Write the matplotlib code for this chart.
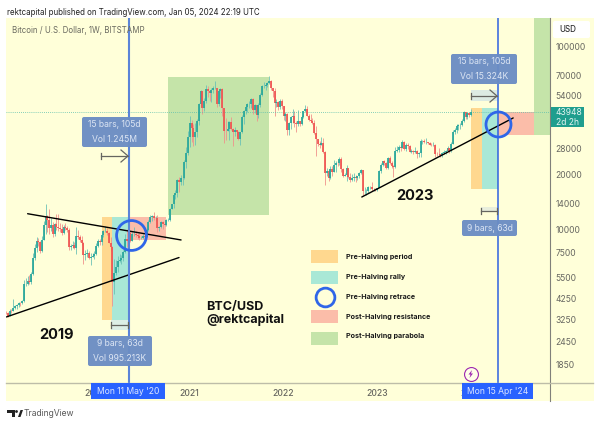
import matplotlib
matplotlib.use("Agg")
import matplotlib.pyplot as plt
import matplotlib.dates as mdates
from matplotlib.patches import Rectangle, FancyBboxPatch, Polygon, Circle
import pandas as pd

plt.rcParams['font.family'] = ['Inter', 'DejaVu Sans']

# Weekly candles, week starting 2019-01-07, last week 2024-01-01
closes = [
 3530,3535,3530,3410,3620,3600,3750,3825,3870,3990,3970,4090,5060,5060,5270,5170,5770,6990,8000,8730,8560,7640,8860,10700,11900,11300,
 10200,10700,9530,10800,10330,10300,10140,9630,10400,10300,10000,8050,8140,8290,7950,9240,9200,8800,8500,7300,7400,7520,7060,7150,7250,7350,
 8170,8700,8600,9330,9900,9900,9660,8520,8030,5200,5830,6240,6770,6860,7040,7540,8880,8700,9670,8720,9450,9470,9330,9300,9000,9060,
 9230,9150,9950,11050,11750,11850,11650,11700,10280,10320,11080,10740,10670,11300,11360,13030,13800,15480,15970,18660,18180,19150,19170,23480,26480,32100,
 38200,36000,32300,34300,39300,48600,57400,46200,50900,59000,57600,55800,57900,59700,60000,49000,57800,58800,46400,34800,34600,35800,39000,35600,34500,35200,
 34200,31500,34300,41500,44500,47000,48900,48900,51800,45200,48300,42700,48200,54900,60800,61300,61800,63300,65500,59700,57300,49300,50100,46700,50800,47700,
 41800,43100,35000,38200,41400,42100,38400,37700,39400,37800,41300,44500,45800,42100,39700,39400,38500,34000,31300,29400,29000,29900,26600,20600,21000,19300,
 21600,20800,22600,23300,23200,24300,21500,19600,20000,21800,19400,18800,19300,19400,19200,19600,20600,21300,16300,16300,16400,17100,17100,16700,16800,16500,
 16900,20900,22700,23700,23300,21800,24600,23200,22400,22100,26900,27500,28450,28000,30300,27800,29200,28900,26800,27100,26800,27100,25900,26300,30500,30500,
 30300,30300,29800,29300,29000,29300,26100,26000,25900,25800,26500,26600,27000,27900,27100,29500,34500,35000,37000,37400,37500,39500,44000,41400,43700,42300,43948]
highs = [
 4050,3680,3620,3580,3680,3680,4200,3900,3920,4050,4050,4140,5350,5470,5600,5650,5900,7450,8350,9100,9050,8750,9300,11200,13800,12000,
 13100,11600,11100,10900,12300,12300,10950,10800,10650,10900,10500,10300,8350,8700,8650,10350,9950,9400,9300,8550,7800,7900,7700,7500,7450,7680,
 8450,8950,8950,9480,9950,10500,10300,9700,9200,8180,6900,6880,7200,7430,7260,7780,9480,10070,9950,9900,9720,10400,9880,9600,9800,9300,
 9480,9350,10150,11400,12100,12100,12470,11900,12050,10450,11180,11180,10950,11500,11700,13200,13880,15980,16500,18950,19500,19900,19450,24200,28400,34800,
 41900,40100,37800,38500,40300,49700,58400,57400,52600,61700,61000,58400,59900,61300,64900,57500,58500,59500,59500,45800,40900,39400,39500,41300,36100,36600,
 35000,34700,34500,42500,45300,47900,49700,50500,52900,52800,48800,46800,49100,56000,62000,64400,63700,64300,69000,66300,59100,59400,52000,50500,51900,52100,
 47500,44300,43500,38900,41700,45800,44700,39400,45400,39500,42300,44800,48000,47400,42900,42900,40700,40000,36800,31000,30600,32400,31700,26900,21800,21500,
 22500,22400,24200,23900,24000,25200,25100,21800,20600,22700,21800,20400,20300,20400,19900,19700,20800,21500,21300,17200,16800,17400,17400,18400,17000,16900,
 17000,21200,23300,23900,24200,23400,25200,25300,23900,22600,28400,28800,29200,29000,30900,30500,29900,29800,29300,27600,27400,28400,27400,26700,31400,31000,
 31500,31800,30400,30300,29700,30200,29500,26800,28100,26100,26800,27500,27500,28600,28000,30200,35200,35900,37900,37900,38400,40300,44700,43400,44300,43700,46000]
lows = [
 3480,3450,3480,3350,3400,3540,3600,3700,3720,3800,3850,3930,4050,4950,5000,5050,5100,5680,6850,7600,8200,7450,7550,8850,9500,9700,
 9550,9850,9100,9300,10000,9900,9800,9350,9550,10050,9700,7800,7750,8000,7850,7350,8950,8600,8300,6550,6850,7150,6900,6450,7100,6900,
 7300,8100,8250,8300,9200,9800,9350,8450,7650,3850,4450,5680,5880,6720,6500,6800,7450,8100,8100,8650,8700,9250,9100,8900,8800,8900,
 8880,8900,9120,9900,10950,11150,11300,11150,9800,9900,10220,10150,10450,10530,11180,11250,12980,13200,14700,15100,16200,17550,17600,19000,21800,25800,
 28500,30400,28900,29200,32200,37500,47000,43000,44900,49300,53300,50400,50300,55700,58900,47000,47600,52900,42000,30000,31200,34600,31000,35000,28800,32700,
 32700,31100,29300,33900,37800,42800,43900,46300,46500,42800,43400,39600,40800,47100,53900,59700,58100,60100,62800,58500,53400,41900,47000,45500,45600,45700,
 39700,39600,32900,33000,35700,38500,36300,34300,37000,37100,37600,40800,44200,41900,39200,38900,37700,33300,25400,28700,28000,29200,26500,17600,19700,18600,
 18900,19600,20700,20700,22400,22700,20800,19500,19600,18500,19300,18200,18600,18600,18200,18700,19200,20100,15500,15800,15500,16000,16700,16400,16300,16400,
 16400,17200,20400,22300,22700,21500,21400,22800,21900,19500,21900,26600,26800,27100,28000,27200,26900,27700,26600,26500,25900,26500,24800,25000,25100,29500,
 29900,29500,29500,29000,28700,28700,25200,25400,25500,24900,25000,25900,26000,27000,26500,26800,29400,33300,34000,35000,35600,37200,39000,40300,40500,41500,41700]

zones_2020_dates = ["2020-01-27", "2020-03-09", "2020-05-11", "2020-10-05", "2020-10-12", "2021-11-08"]
zones_2024_dates = ["2024-01-01", "2024-02-12", "2024-04-15", "2024-09-02", "2025-06-01"]
halving_dates = ["2020-05-11", "2024-04-15"]
y_ticks = [1850, 2450, 3250, 4250, 5500, 7500, 10000, 14000, 20000, 28000, 54000, 70000, 100000]
x_tick_years = [2020, 2021, 2022, 2023, 2024]
line_a = (["2019-04-15", "2020-12-01"], [12270, 8820])
line_b = (["2019-01-23", "2020-11-23"], [3350, 7070])
line_c = (["2022-11-03", "2024-06-13"], [15140, 40930])
legend_labels = ["Pre-Halving period", "Pre-Halving rally", "Pre-Halving retrace",
                 "Post-Halving resistance", "Post-Halving parabola"]

ORANGE, TEAL, RED, GREEN = "#FFD88F", "#A9E8D6", "#FBBDA9", "#C5E4A9"
BG = "#FFFFD9"
UP, DOWN = "#26A69A", "#EF5350"
BOX = "#6B8DC4"
BOXTXT = "#DCE5F3"
BLUE = "#2962FF"
GRAY = "#666660"

fig = plt.figure(figsize=(6, 4.25), dpi=100, facecolor="white")
W, H = 600, 425
fig.patches.append(Rectangle((6 / W, 1 - 401 / H), 588 / W, 383 / H, transform=fig.transFigure,
                             fc=BG, ec="none", zorder=-5))

ax = fig.add_axes([6 / W, 1 - 383 / H, 544 / W, 365 / H], facecolor="none")
ax.set_yscale("log")
ax.set_ylim(1459, 143900)
ax.set_xlim(pd.Timestamp("2019-01-21"), pd.Timestamp("2024-11-03"))
for s in ax.spines.values():
    s.set_visible(False)

d = lambda s: pd.Timestamp(s)
def zone(start, end, lo, hi, color):
    ax.add_patch(Rectangle((mdates.date2num(d(start)), lo),
                           mdates.date2num(d(end)) - mdates.date2num(d(start)), hi - lo,
                           fc=color, ec="none", zorder=1))

z = zones_2020_dates
zone(z[0], z[1], 3220, 11780, ORANGE)
zone(z[1], z[2], 3220, 11780, TEAL)
zone(z[2], z[3], 8820, 11780, RED)
zone(z[4], z[5], 12080, 68500, GREEN)
z = zones_2024_dates
zone(z[0], z[1], 16750, 46450, ORANGE)
zone(z[1], z[2], 16750, 46450, TEAL)
zone(z[2], z[3], 33020, 44150, RED)
zone(z[3], z[4], 33020, 143900, GREEN)

# candles
dates = pd.date_range(end="2024-01-01", periods=len(closes), freq="7D")
opens = [3800] + closes[:-1]
cols = [UP if c >= o else DOWN for o, c in zip(opens, closes)]
wcols = ["#6CC2B6" if c >= o else "#F0928C" for o, c in zip(opens, closes)]
ax.vlines(dates, lows, highs, colors=wcols, lw=0.6, zorder=2)
ax.vlines(dates, opens, closes, colors=cols, lw=1.25, zorder=3)

ax.axhline(closes[-1], color="#5CBFAE", lw=0.6, ls=(0, (1, 1.5)), zorder=2)

for (dd, pp) in (line_a, line_b, line_c):
    ax.plot([d(x) for x in dd], pp, color="black", lw=1.0, zorder=4, solid_capstyle="round")

ax.axvline(d(halving_dates[0]), color="#5B84D8", lw=1.5, zorder=5)
ax.axvline(d(halving_dates[1]), color="#2F62E0", lw=1.1, zorder=5)

ax.plot([d("2020-05-20")], [9390], "o", ms=21.5, mfc="none", mec="#2F66E8", mew=2.0, zorder=6)
ax.plot([d("2024-04-15")], [37950], "o", ms=18, mfc="none", mec="#2F66E8", mew=2.0, zorder=6)

ax.set_xticks([d(f"{y}-01-01") for y in x_tick_years])
ax.set_xticklabels([str(y) for y in x_tick_years], fontsize=6.2, color=GRAY, fontweight="medium")
ax.tick_params(axis="x", length=0, pad=4.5)
ax.yaxis.tick_right()
ax.set_yticks(y_ticks)
ax.set_yticklabels([str(v) for v in y_ticks], fontsize=6.1, color=GRAY)
ax.minorticks_off()
ax.tick_params(axis="y", length=0, pad=4)

# pixel overlay for annotations
ov = fig.add_axes([0, 0, 1, 1], facecolor="none")
ov.set_xlim(0, W)
ov.set_ylim(H, 0)
ov.axis("off")

ov.plot([550, 550], [18, 401], color="#80807A", lw=0.8)
ov.plot([6, 593], [383, 383], color="#BDBDA8", lw=1.0)

def infobox(x0, y0, x1, y1, lines):
    ov.add_patch(FancyBboxPatch((x0 + 1.5, y0 + 1.5), x1 - x0 - 3, y1 - y0 - 3,
                                boxstyle="round,pad=1.5,rounding_size=2", fc=BOX, ec="none", alpha=0.96, zorder=8))
    n = len(lines)
    step = (y1 - y0) / n
    for i, t in enumerate(lines):
        ov.text((x0 + x1) / 2, y0 + step * (i + .5), t, color=BOXTXT, fontsize=6.2,
                ha="center", va="center", zorder=9)

infobox(82, 117, 147, 147, ["15 bars, 105d", "Vol 1.245M"])
infobox(451, 54, 517, 84, ["15 bars, 105d", "Vol 15.324K"])
infobox(88, 336, 152, 366, ["9 bars, 63d", "Vol 995.213K"])
infobox(462, 220, 517, 236, ["9 bars, 63d"])

ov.add_patch(Rectangle((471, 90), 26, 11, fc="#DDEBE2", ec="none", zorder=6))
ov.add_patch(Rectangle((111, 320), 17, 10, fc="#DDEFE6", ec="none", zorder=6))
ov.add_patch(Rectangle((481, 207), 16, 4, fc="#E8EEDC", ec="none", zorder=6))

def arrow(x0, x1, y):
    ov.plot([x0, x0], [y - 3, y + 3], color=GRAY, lw=0.9, zorder=7)
    ov.plot([x0, x1], [y, y], color=GRAY, lw=0.9, zorder=7)
    ov.plot([x1 - 7, x1, x1 - 7], [y - 6, y, y + 6], color=GRAY, lw=0.9, zorder=7)

def bracket(x0, x1, y):
    ov.plot([x0, x0], [y - 3, y + 3], color=GRAY, lw=0.9, zorder=7)
    ov.plot([x1, x1], [y - 3, y + 3], color=GRAY, lw=0.9, zorder=7)
    ov.plot([x0, x1], [y, y], color=GRAY, lw=0.9, zorder=7)

arrow(101, 128, 156)
arrow(471, 497, 96)
bracket(111, 128, 325)
bracket(481, 497, 211)

for (x0, x1, t) in ((91, 165, "Mon 11 May '20"), (462, 533, "Mon 15 Apr '24")):
    ov.add_patch(Rectangle((x0, 383), x1 - x0, 16, fc="#2962FF", ec="none", zorder=8))
    ov.text((x0 + x1) / 2, 392, t, color="#DDE6FF", fontsize=6.2, ha="center", va="center", zorder=9)

# price panel
ov.add_patch(FancyBboxPatch((554, 22), 35, 15, boxstyle="round,pad=1,rounding_size=2", fc="white", ec="none", zorder=8))
ov.text(559, 29.5, "USD", fontsize=5.8, color="#333333", va="center", zorder=9, fontweight="medium")
ov.add_patch(Rectangle((551, 107), 33, 20, fc="#1F9E8E", ec="none", zorder=8))
ov.text(556, 112.5, "43948", color="#E6F5F2", fontsize=6.1, va="center", zorder=9)
ov.text(556, 122, "2d 2h", color="#E6F5F2", fontsize=6.1, va="center", zorder=9)

# legend
sw = [(250, ORANGE), (271, TEAL), (310, RED), (332, GREEN)]
for y, c in sw:
    ov.add_patch(Rectangle((311, y), 27, 13, fc=c, ec="none", zorder=6))
ov.plot([324.5], [296.7], "o", ms=13.5, mfc="none", mec="#2F66E8", mew=2.0, zorder=6)
for y, t in zip([257, 277, 297, 317, 336], legend_labels):
    ov.text(345.5, y, t, fontsize=5.15, fontweight="bold", color="#1a1a1a", va="center", zorder=9)

# free text
ov.text(39, 335, "2019", fontsize=10.5, fontweight="bold", color="#111111", va="center", zorder=9)
ov.text(396, 196, "2023", fontsize=10.5, fontweight="bold", color="#111111", va="center", zorder=9)
ov.text(206, 307, "BTC/USD", fontsize=9, fontweight="bold", color="#111111", va="center", zorder=9)
ov.text(206, 320, "@rektcapital", fontsize=9, fontweight="bold", color="#111111", va="center", zorder=9)

ov.text(7, 12, "rektcapital published on TradingView.com, Jan 05, 2024 22:19 UTC",
        fontsize=5.7, color="#222222", va="center", zorder=9)
ov.text(12, 30, "Bitcoin / U.S. Dollar, 1W, BITSTAMP", fontsize=5.7, color="#6a6a60", va="center", zorder=9)

# halving icon
ov.plot([470.7], [374], "o", ms=10, mfc="#FFFFE8", mec="#9C27B0", mew=0.8, zorder=9)
ov.add_patch(Polygon([(472, 370), (468.5, 374.5), (470.5, 374.5), (469.5, 378), (473, 373.5), (471, 373.5)],
                     fc="#9C27B0", ec="none", zorder=10))

# TradingView logo
ov.add_patch(Polygon([(7, 410), (15, 410), (15, 417), (12, 417), (12, 413), (7, 413)], fc="#222222", ec="none"))
ov.add_patch(Circle((16.5, 411.5), 1.4, fc="#222222", ec="none"))
ov.add_patch(Polygon([(18, 417), (20.5, 410), (23, 410), (20.5, 417)], fc="#222222", ec="none"))
ov.text(23.5, 413.5, "TradingView", fontsize=6.2, color="#5a5a5a", va="center", zorder=9)

fig.savefig("out.png", dpi=100)
